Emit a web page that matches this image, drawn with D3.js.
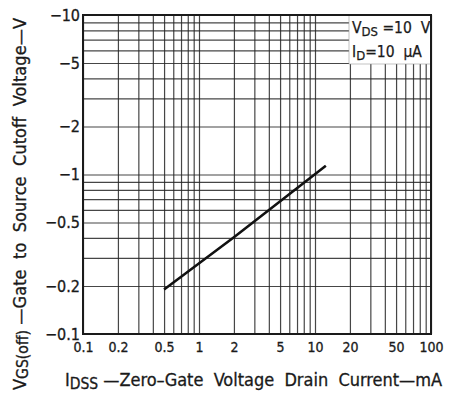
<!DOCTYPE html>
<html><head><meta charset="utf-8">
<script src="https://cdn.jsdelivr.net/npm/d3@7"></script>
<style>
body{margin:0;background:#fff;}
svg{display:block;}
text{font-family:"DejaVu Sans Condensed","Liberation Sans",sans-serif;fill:#1a1a1a;white-space:pre;}
</style></head><body>
<svg id="c" width="458" height="393"></svg>
<script>
// Data
const idss = [0.5, 2.0, 12.4];          // mA
const vgsoff = [-0.19, -0.404, -1.135];  // V
const xTickValues = [0.1, 0.2, 0.5, 1, 2, 5, 10, 20, 50, 100];
const xTickLabels = ["0.1", "0.2", "0.5", "1", "2", "5", "10", "20", "50", "100"];
const yTickValues = [-0.1, -0.2, -0.5, -1, -2, -5, -10];
const yTickLabels = ["\u22120.1", "\u22120.2", "\u22120.5", "\u22121", "\u22122", "\u22125", "\u221210"];
const decadesX = [0.1, 1, 10];
const decadesY = [-0.1, -1];

const W = 458, H = 393;
const m = {l: 83, t: 15, r: 27, b: 59};
const iw = W - m.l - m.r, ih = H - m.t - m.b;
const svg = d3.select("#c");
const g = svg.append("g").attr("transform", `translate(${m.l},${m.t})`);

const x = d3.scaleLog().domain([0.1, 100]).range([0, iw]);
const y = d3.scaleLog().domain([-0.1, -10]).range([ih, 0]);

const xGrid = [];
decadesX.forEach(d => { for (let k = 1; k <= 9; k++) xGrid.push(+(k * d).toPrecision(3)); });
xGrid.push(100);
const yGrid = [];
decadesY.forEach(d => { for (let k = 1; k <= 9; k++) yGrid.push(+(k * d).toPrecision(3)); });
yGrid.push(-10);

// grid via axes
const gx = g.append("g").attr("transform", `translate(0,${ih})`)
  .call(d3.axisBottom(x).tickValues(xGrid).tickSize(-ih).tickFormat(""));
const gy = g.append("g")
  .call(d3.axisLeft(y).tickValues(yGrid).tickSize(-iw).tickFormat(""));
[gx, gy].forEach(a => {
  a.select(".domain").remove();
  a.selectAll(".tick line").attr("stroke", "#262626").attr("stroke-width", 1.2).attr("stroke-opacity", 0.85);
});

const tf = '"DejaVu Sans Condensed",sans-serif';
// tick labels
const lx = g.append("g").attr("transform", `translate(0,${ih})`)
  .call(d3.axisBottom(x).tickValues(xTickValues).tickSize(0).tickPadding(8)
    .tickFormat((d, i) => xTickLabels[i]));
lx.select(".domain").remove();
lx.selectAll("text").attr("font-size", 14).attr("fill", "#1a1a1a")
  .attr("stroke", "#1a1a1a").attr("stroke-width", 0.3).style("font-family", tf);

const ly = g.append("g")
  .call(d3.axisLeft(y).tickValues(yTickValues).tickSize(0).tickPadding(3)
    .tickFormat((d, i) => yTickLabels[i]));
ly.select(".domain").remove();
ly.selectAll("text").attr("font-size", 16).attr("fill", "#1a1a1a")
  .attr("stroke", "#1a1a1a").attr("stroke-width", 0.3).style("font-family", tf);

// legend box
g.append("rect").attr("x", 266).attr("y", 0).attr("width", iw - 266).attr("height", 49)
  .attr("fill", "#fff").attr("stroke", "#999").attr("stroke-width", 0.6);
const leg = g.append("text").attr("x", 269).attr("y", 18).attr("font-size", 15.5)
  .attr("stroke", "#1a1a1a").attr("stroke-width", 0.25);
leg.append("tspan").text("V");
leg.append("tspan").attr("font-size", 13).attr("dy", 3).text("DS");
leg.append("tspan").attr("dy", -3).text(" =10  V");
const leg2 = g.append("text").attr("x", 269).attr("y", 42).attr("font-size", 15.5)
  .attr("stroke", "#1a1a1a").attr("stroke-width", 0.25);
leg2.append("tspan").text("I");
leg2.append("tspan").attr("font-size", 13).attr("dy", 3).text("D");
leg2.append("tspan").attr("dy", -3).text("=10  \u03bcA");

// frame
g.append("rect").attr("width", iw).attr("height", ih).attr("fill", "none")
  .attr("stroke", "#1a1a1a").attr("stroke-width", 2);

// curve
const line = d3.line().x((d, i) => x(idss[i])).y((d, i) => y(vgsoff[i]));
g.append("path").datum(idss).attr("d", line).attr("fill", "none")
  .attr("stroke", "#111").attr("stroke-width", 2.6);

// axis titles
const xt = svg.append("text").attr("x", 65).attr("y", 386).attr("font-size", 18)
  .attr("textLength", 377).attr("lengthAdjust", "spacing")
  .attr("stroke", "#1a1a1a").attr("stroke-width", 0.3);
xt.append("tspan").text("I");
xt.append("tspan").attr("font-size", 15.5).attr("dy", 3).text("DSS");
xt.append("tspan").attr("dy", -3).text(" \u2014Zero\u2013Gate  Voltage  Drain  Current\u2014mA");

const yt = svg.append("text").attr("transform", "translate(26,390) rotate(-90)")
  .attr("font-size", 18).attr("textLength", 372).attr("lengthAdjust", "spacing")
  .attr("stroke", "#1a1a1a").attr("stroke-width", 0.3);
yt.append("tspan").text("V");
yt.append("tspan").attr("font-size", 15.5).attr("dy", 2).text("GS(off)");
yt.append("tspan").attr("dy", -2).text(" \u2014Gate  to  Source  Cutoff  Voltage\u2014V");
</script>
</body></html>
